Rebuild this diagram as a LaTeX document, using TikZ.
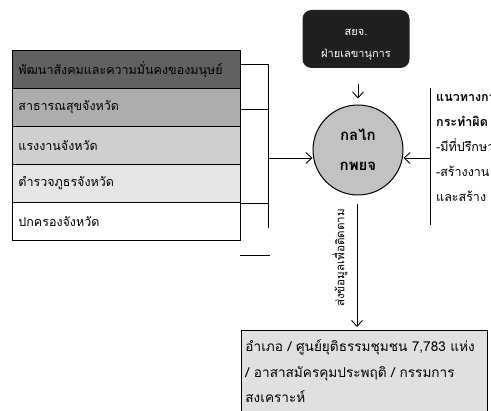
\documentclass[tikz,border=0pt]{standalone}
\usepackage{fontspec}
\newfontfamily\thaifont[Script=Thai]{Loma}
\usetikzlibrary{positioning, arrows.meta}

\definecolor{rowone}{gray}{0.38}
\definecolor{rowtwo}{gray}{0.68}
\definecolor{rowthree}{gray}{0.81}
\definecolor{rowfour}{gray}{0.90}
\definecolor{circfill}{gray}{0.76}
\definecolor{secfill}{gray}{0.12}
\definecolor{boxfill}{gray}{0.88}

\begin{document}
\begin{tikzpicture}[x=1pt,y=-1pt]
	\tikzstyle{row}=[draw=black, line width=0.9pt, anchor=north west, minimum width=228pt, minimum height=38pt, text width=216pt, align=left, inner xsep=6pt, font=\thaifont\fontsize{12.5}{14}\selectfont]
	\tikzstyle{conn}=[line width=0.9pt]
	\tikzstyle{arr}=[line width=0.9pt, -{Straight Barb[length=6pt,width=11pt]}]
	\useasboundingbox (0,0) rectangle (491,411);
	\clip (0,0) rectangle (491,411);
	% left boxes
	\node[row, fill=rowone](r1) at (12,50){พัฒนาสังคมและความมั่นคงของมนุษย์};
	\node[row, fill=rowtwo](r2) at (12,88){สาธารณสุขจังหวัด};
	\node[row, fill=rowthree](r3) at (12,126){แรงงานจังหวัด};
	\node[row, fill=rowfour](r4) at (12,164){ตำรวจภูธรจังหวัด};
	\node[row, fill=white](r5) at (12,202){ปกครองจังหวัด};
	% centre
	\node[circle, draw=black, line width=1pt, fill=circfill, minimum size=90pt, align=center, font=\thaifont\bfseries\fontsize{15}{30}\selectfont](kl) at (358,150){กลไก\\กพยจ};
	\node[rounded corners=9pt, fill=secfill, minimum width=107pt, minimum height=58pt, text=white, font=\thaifont\fontsize{11}{23}\selectfont](sec) at (356,39){};
	\node[text=white, font=\thaifont\fontsize{11}{13}\selectfont](sec1) at (356,32){สยจ.};
	\node[text=white, font=\thaifont\fontsize{11}{13}\selectfont](sec2) at (356,55){ฝ่ายเลขานุการ};
	\node[draw=black, line width=0.9pt, fill=boxfill, anchor=north west, minimum width=246pt, minimum height=82pt, text width=238pt, align=left, inner xsep=4pt, font=\thaifont\fontsize{13.6}{25.5}\selectfont](bx) at (241,330){อำเภอ / ศูนย์ยุติธรรมชุมชน 7,783 แห่ง\\/ อาสาสมัครคุมประพฤติ / กรรมการ\\สงเคราะห์};
	\node[anchor=north west, align=left, inner sep=0pt, font=\thaifont\fontsize{12.5}{25}\selectfont](gd) at (436,94){\textbf{แนวทางการ}\\\textbf{กระทำผิด}\\-มีที่ปรึกษา\\-สร้างงาน\\และสร้าง};
	\node[rotate=90, font=\thaifont\fontsize{11.6}{12}\selectfont](sd) at (340,258){ส่งข้อมูลเพื่อติดตาม};
	% bracket
	\coordinate(b1) at (268,64);
	\coordinate(b2) at (268,109);
	\coordinate(b3) at (268,158);
	\coordinate(b4) at (268,203);
	\coordinate(b5) at (268,228);
	\coordinate(s1) at (240,255);
	\coordinate(s2) at (270,255);
	\coordinate(g1) at (430,88);
	\coordinate(g2) at (430,158);
	\coordinate(g3) at (430,225);
	\coordinate(d1) at (357,204);
	\draw[conn] (b1) -- (b5);
	\draw[conn] (b1 -| r1.east) -- (b1);
	\draw[conn] (b2 -| r2.east) -- (b2);
	\draw[conn] (b4 -| r5.east) -- (b4);
	\draw[conn] (s1) -- (s2);
	\draw[conn] (g1) -- (g3);
	\draw[arr] (b3) -- (b3 -| kl.west);
	\draw[arr] (g2) -- (g2 -| kl.east);
	\draw[arr, shorten <=16pt, shorten >=6pt] (sec.south -| kl.north) -- (kl.north);
	\draw[arr, shorten >=3pt] (d1) -- (d1 |- bx.north);
\end{tikzpicture}
\end{document}
